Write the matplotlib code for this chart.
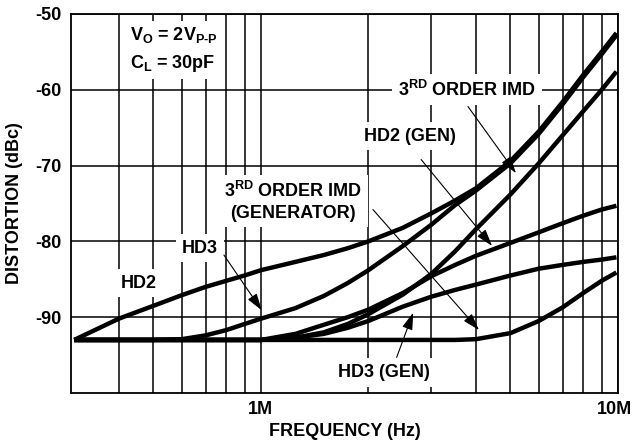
import numpy as np
import matplotlib.pyplot as plt
import matplotlib.transforms as mtransforms
from matplotlib.ticker import FixedLocator, NullFormatter

plt.rcParams['font.family'] = ['Liberation Sans', 'DejaVu Sans']
plt.rcParams['font.weight'] = 'bold'
plt.rcParams['font.size'] = 13
plt.rcParams['axes.unicode_minus'] = False
plt.rcParams['mathtext.fontset'] = 'custom'
plt.rcParams['mathtext.rm'] = 'Liberation Sans:bold'
plt.rcParams['mathtext.it'] = 'Liberation Sans:bold'
plt.rcParams['mathtext.bf'] = 'Liberation Sans:bold'

# frequencia en MHz, distorsion en dBc
freq_mhz = [0.3, 0.4, 0.5, 0.6, 0.7, 0.8, 0.9, 1.0, 1.25, 1.5, 1.75,
            2.0, 2.5, 3.0, 3.5, 4.0, 5.0, 6.0, 7.0, 8.0, 9.0, 9.9]

hd2 = [-93.0, -90.2, -88.5, -87.1, -86.0, -85.2, -84.5, -83.8, -82.7, -81.8, -80.9,
       -80.0, -78.2, -76.3, -74.6, -73.0, -69.4, -65.5, -61.6, -58.0, -55.0, -52.5]
hd3 = [-93.0, -93.0, -93.0, -92.9, -92.4, -91.7, -90.9, -90.2, -88.8, -87.2, -85.5,
       -83.8, -80.6, -77.8, -75.2, -73.3, -69.7, -65.8, -61.9, -58.3, -55.3, -52.8]
imd3 = [-93.0, -93.0, -93.0, -93.0, -93.0, -93.0, -93.0, -93.0, -92.7, -92.0, -90.9,
        -89.6, -87.0, -84.3, -81.3, -78.4, -73.8, -69.7, -66.0, -62.8, -60.0, -57.6]
hd2_gen = [-93.0, -93.0, -93.0, -93.0, -93.0, -93.0, -93.0, -93.0, -92.2, -91.0, -90.0,
           -89.0, -86.8, -84.6, -83.1, -81.9, -80.2, -78.8, -77.6, -76.6, -75.8, -75.3]
hd3_gen = [-93.0, -93.0, -93.0, -93.0, -93.0, -93.0, -93.0, -93.0, -92.7, -92.2, -91.4,
           -90.5, -88.6, -87.3, -86.4, -85.7, -84.5, -83.6, -83.1, -82.7, -82.4, -82.1]
imd3_gen = [-93.0, -93.0, -93.0, -93.0, -93.0, -93.0, -93.0, -93.0, -93.0, -93.0, -93.0,
            -93.0, -93.0, -93.0, -93.0, -92.9, -92.1, -90.5, -88.7, -86.8, -85.2, -84.1]

series = [hd2, hd3, imd3, hd2_gen, hd3_gen, imd3_gen]

fig = plt.figure(figsize=(6.34, 4.45), dpi=100)
ax = fig.add_axes([71 / 634, 1 - 393 / 445, 547 / 634, 379 / 445])

f_hz = np.array(freq_mhz) * 1e6
for s in series:
    ax.plot(f_hz, s, color='black', lw=3.2, solid_capstyle='butt',
            solid_joinstyle='round', zorder=4)

ax.set_xscale('log')
ax.set_xlim(2.94e5, 1e7)
ax.set_ylim(-100, -50)

# grilla: decadas con etiqueta, intermedias sin etiqueta
ax.xaxis.set_major_locator(FixedLocator([1e6, 1e7]))
ax.xaxis.set_minor_locator(FixedLocator([k * 1e5 for k in range(4, 10)] +
                                        [k * 1e6 for k in range(2, 10)]))
ax.xaxis.set_minor_formatter(NullFormatter())
ax.set_xticklabels(['1M', '10M'])
ax.set_yticks([-90, -80, -70, -60, -50])
ax.grid(True, which='both', color='black', lw=1.1, zorder=1)
ax.tick_params(which='both', length=0)
ax.tick_params(axis='y', pad=7)
ax.tick_params(axis='x', pad=6)
for sp in ax.spines.values():
    sp.set_linewidth(1.3)

# correr un poco la etiqueta 10M para que entre en la figura
lbl10 = ax.get_xticklabels()[1]
lbl10.set_transform(lbl10.get_transform() +
                    mtransforms.ScaledTranslation(-3 / 100, 0, fig.dpi_scale_trans))

box = dict(facecolor='white', edgecolor='none', pad=4)

ax.text(0.43e6, -54.7, 'V$_{O}$ = 2V$_{\\text{P-P}}$\nC$_{L}$ = 30pF', ha='left',
        va='center', linespacing=1.5, bbox=box, zorder=3)
ax.text(3.78e6, -60.0, '3$^{RD}$ ORDER IMD', ha='center', va='center', bbox=box, zorder=3)
ax.text(2.61e6, -66.1, 'HD2 (GEN)', ha='center', va='center', bbox=box, zorder=3)
ax.text(1.23e6, -74.7, '3$^{RD}$ ORDER IMD\n(GENERATOR)', ha='center', va='center',
        multialignment='center', linespacing=1.3, bbox=box, zorder=3)
ax.text(0.675e6, -80.9, 'HD3', ha='center', va='center', bbox=box, zorder=3)
ax.text(0.455e6, -85.5, 'HD2', ha='center', va='center', bbox=box, zorder=3)
ax.text(2.21e6, -97.3, 'HD3 (GEN)', ha='center', va='center', bbox=box, zorder=3)

# flechas (cola, punta)
arrows = [
    ((0.788e6, -81.8), (1.006e6, -89.1)),
    ((3.80e6, -62.2), (5.18e6, -71.0)),
    ((2.81e6, -69.2), (4.44e6, -80.6)),
    ((2.06e6, -75.8), (4.08e6, -91.7)),
    ((2.40e6, -95.3), (2.67e6, -89.4)),
]
for tail, tip in arrows:
    ax.annotate('', xy=tip, xytext=tail,
                arrowprops=dict(arrowstyle='-|>,head_length=0.8,head_width=0.25',
                                color='black', lw=0.8, shrinkA=0, shrinkB=0,
                                mutation_scale=13),
                zorder=5)

fig.text(345 / 634, 1 - 432 / 445, 'FREQUENCY (Hz)', ha='center', va='center')
fig.text(15 / 634, 1 - 203 / 445, 'DISTORTION (dBc)', ha='center', va='center', rotation=90)

fig.savefig('out.png', dpi=100)
